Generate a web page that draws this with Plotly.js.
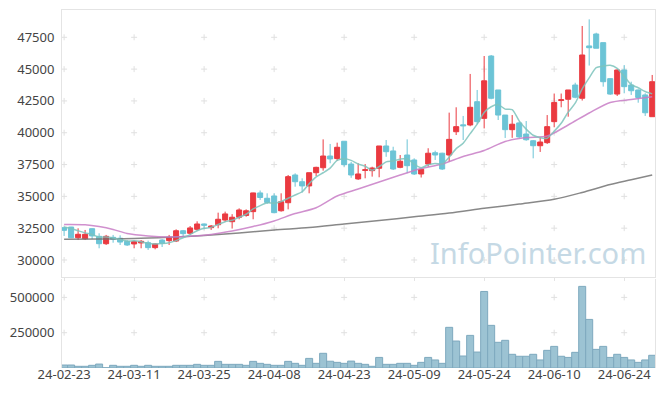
<!DOCTYPE html>
<html><head><meta charset="utf-8">
<script src="https://cdn.plot.ly/plotly-3.0.1.min.js"></script>
<style>html,body{margin:0;padding:0;background:#fff}#chart{width:665px;height:396px}</style>
</head><body><div id="chart"></div>
<script>
const dates = ["24-02-23","24-02-26","24-02-27","24-02-28","24-02-29","24-03-04","24-03-05","24-03-06","24-03-07","24-03-08",
"24-03-11","24-03-12","24-03-13","24-03-14","24-03-15","24-03-18","24-03-19","24-03-20","24-03-21","24-03-22",
"24-03-25","24-03-26","24-03-27","24-03-28","24-03-29","24-04-01","24-04-02","24-04-03","24-04-04","24-04-05",
"24-04-08","24-04-09","24-04-11","24-04-12","24-04-15","24-04-16","24-04-17","24-04-18","24-04-19","24-04-22",
"24-04-23","24-04-24","24-04-25","24-04-26","24-04-29","24-04-30","24-05-02","24-05-03","24-05-07","24-05-08",
"24-05-09","24-05-10","24-05-13","24-05-14","24-05-16","24-05-17","24-05-20","24-05-21","24-05-22","24-05-23",
"24-05-24","24-05-27","24-05-28","24-05-29","24-05-30","24-05-31","24-06-03","24-06-04","24-06-05","24-06-07",
"24-06-10","24-06-11","24-06-12","24-06-13","24-06-14","24-06-17","24-06-18","24-06-19","24-06-20","24-06-21",
"24-06-24","24-06-25","24-06-26","24-06-27","24-06-28"];

const open = [32540,32590,31750,31670,32460,31860,31280,31780,31710,31470,
31260,31340,31360,30970,31570,31520,31490,32300,32100,32410,
32830,32540,32770,33140,33010,33360,33500,33800,35270,34850,
35030,33870,34500,36680,36150,35820,36860,37250,38170,37970,
39330,37540,36370,37040,37020,37210,38960,38570,37280,38250,
37860,36760,37540,38430,38390,38250,40080,40620,40610,42440,
41130,46030,43360,41390,40240,40770,39900,39370,38980,39220,
40870,42530,42630,43750,42710,46820,47760,47080,44250,43040,
44930,43750,43360,42970,41260];

const high = [32620,32600,32490,32360,32490,32100,31970,31970,31940,31570,
31520,31570,31520,31310,31630,31970,32410,32360,32670,33040,
32870,32750,33720,33800,33600,34060,33980,35290,35460,35240,
35240,35240,36680,36810,36420,36860,37330,39480,39120,39220,
39330,37710,37600,37540,37330,38960,39430,38900,38250,39480,
37990,37210,38780,38590,38430,41580,42000,41320,44620,43360,
46030,46110,43360,41390,41390,40870,40920,39430,39640,41390,
43080,43080,43360,43930,48390,48910,47860,47080,44280,44990,
45320,44010,43400,43100,44540];

const low = [31890,31720,31570,31570,31650,30920,31180,31360,31180,31100,
30920,30920,30790,30840,31020,31180,31410,31830,31990,32300,
32410,32360,32490,33010,32470,33200,33400,33200,34720,34400,
33670,33800,33980,35760,35290,35240,36600,37020,37600,37800,
37330,36460,36290,36420,36550,36500,38110,37070,37210,36820,
36680,36480,37330,37860,37070,37720,39820,39430,40510,40680,
40340,42630,41000,39590,39600,39560,39370,37990,38490,39120,
40430,42000,41260,42710,42530,45280,46640,43620,42970,42890,
43100,42970,42360,41320,41260];

const close = [32330,31750,32020,32020,31890,31280,31860,31630,31410,31180,
31440,31470,30970,31260,31310,31780,32300,32070,32520,32830,
32730,32670,33200,33620,33360,33930,33870,35270,34910,34520,
33720,34580,36550,36150,35820,36860,37280,38170,37940,38860,
37490,36680,36760,37090,37230,38960,38510,37150,37760,37410,
36760,37130,38390,38250,37150,39480,40480,40550,42000,40870,
44080,42710,41390,40240,40670,39670,39450,38980,39270,40480,
42380,42590,43360,42790,46110,46680,46640,44010,43040,44930,
43620,43300,42770,41570,44010];

const volume = [21000,21000,12000,12000,19000,28000,2000,19000,12000,12000,
19000,12000,19000,12000,12000,12000,19000,19000,19000,26000,
19000,19000,47000,26000,26000,26000,19000,47000,33000,26000,
19000,19000,47000,33000,19000,68000,33000,104000,48000,40000,
33000,49000,33000,26000,12000,75000,26000,26000,33000,33000,
19000,40000,75000,57000,33000,288000,191000,85000,231000,113000,
542000,302000,182000,196000,97000,83000,83000,97000,57000,125000,
153000,83000,75000,111000,578000,344000,132000,153000,75000,97000,
75000,57000,40000,57000,90000];

// moving-average lines (first MA5 points precede the window)
const ma5Head = [32600,32480,32300,32130];
const ma20Idx = [0,3,5,7,9,12,15,18,21,24,27,30,33,36,39,42,45,48,51,54,57,60,63,66,69,72,75,78,81,84];
const ma20Val = [32790,32770,32630,32400,32080,31890,31810,31860,32010,32280,32630,33070,33650,34110,35030,35580,36130,36680,37190,37540,38130,38600,39310,39620,39740,40610,41550,42380,42610,42830];
const ma60Idx = [0,5,10,15,20,25,30,35,40,45,50,55,60,65,70,74,78,81,84];
const ma60Val = [31630,31650,31680,31780,31920,32120,32360,32550,32830,33100,33400,33690,34060,34400,34770,35310,35930,36300,36680];

const priceTicks = [30000,32500,35000,37500,40000,42500,45000,47500];
const volTicks = [250000,500000];
const xTickIdx = [0,10,20,30,40,50,60,70,80];

const UP = '#ea3a40', DOWN = '#6cc4d6';
const ma5 = close.map((c,i) => i < 4 ? ma5Head[i] :
  Math.round((close[i]+close[i-1]+close[i-2]+close[i-3]+close[i-4]) / 5));

const tickCats = xTickIdx.map(i => dates[i]);

// light "+" marks at tick intersections, drawn beneath the data
const shapes = [];
function plusMarks(xr, yr, ys){
  xTickIdx.forEach(xi => ys.forEach(v => {
    const ln = {color:'#e0e0e0', width:1};
    shapes.push({type:'line', layer:'below', xref:xr, yref:yr, xsizemode:'pixel', xanchor:xi,
      x0:-3, x1:3, y0:v, y1:v, line:ln});
    shapes.push({type:'line', layer:'below', xref:xr, yref:yr, ysizemode:'pixel', yanchor:v,
      y0:-3, y1:3, x0:xi, x1:xi, line:ln});
  }));
}
plusMarks('x','y',priceTicks);
plusMarks('x2','y2',volTicks);

const traces = [
  {type:'candlestick', x:dates, open:open, high:high, low:low, close:close, xaxis:'x', yaxis:'y',
   increasing:{line:{color:UP, width:1}, fillcolor:UP},
   decreasing:{line:{color:DOWN, width:1}, fillcolor:DOWN}, whiskerwidth:0},
  {type:'scatter', mode:'lines', x:ma60Idx.map(i=>dates[i]), y:ma60Val, xaxis:'x', yaxis:'y',
   line:{color:'rgba(115,115,115,0.85)', width:1.5, shape:'spline', smoothing:0.8}},
  {type:'scatter', mode:'lines', x:ma20Idx.map(i=>dates[i]), y:ma20Val, xaxis:'x', yaxis:'y',
   line:{color:'rgba(200,125,198,0.85)', width:1.5, shape:'spline', smoothing:0.8}},
  {type:'scatter', mode:'lines', x:dates, y:ma5, xaxis:'x', yaxis:'y',
   line:{color:'rgba(125,195,188,0.85)', width:1.5, shape:'spline', smoothing:0.7}},
  {type:'bar', x:dates, y:volume, xaxis:'x2', yaxis:'y2',
   marker:{color:'#9cc3d3', line:{color:'#7ea9be', width:1}}}
];

const tf = {family:'Noto Sans, DejaVu Sans, sans-serif', size:13, color:'#444'};
const axBase = {showgrid:false, zeroline:false, showline:true, linecolor:'#e4e4e4', linewidth:1, mirror:true, tickfont:tf};
const layout = {
  width:665, height:396, margin:{l:62, r:10, t:10, b:28},
  paper_bgcolor:'#fff', plot_bgcolor:'#fff', showlegend:false, bargap:0,
  boxgap:0.28, boxgroupgap:0, boxmode:'overlay',
  font:tf, shapes:shapes,
  xaxis: Object.assign({}, axBase, {type:'category', categoryorder:'array', categoryarray:dates,
    range:[-0.3, 84.4], anchor:'y', domain:[0,1], showticklabels:false, tickvals:tickCats,
    ticks:'outside', ticklen:3, tickcolor:'#e4e4e4', rangeslider:{visible:false}}),
  xaxis2: {type:'category', categoryorder:'array', categoryarray:dates,
    range:[-0.3, 84.4], anchor:'free', position:0.009, domain:[0,1], tickvals:tickCats, ticktext:tickCats,
    ticks:'', showline:false, showgrid:false, zeroline:false, tickfont:tf},
  yaxis: Object.assign({}, axBase, {domain:[0.2542,1], range:[28664,49645], tickvals:priceTicks,
    ticktext:priceTicks.map(String), ticks:'', ticklabelstandoff:4}),
  yaxis2: Object.assign({}, axBase, {anchor:'x2', domain:[0,0.25], range:[0,633800], tickvals:volTicks,
    ticktext:volTicks.map(String), ticks:'', ticklabelstandoff:4}),
  annotations:[{text:'InfoPointer.com', xref:'paper', yref:'paper', x:0.988, y:0.322,
    xanchor:'right', yanchor:'middle', showarrow:false,
    font:{family:'Noto Sans, sans-serif', size:29, color:'#c5d9e5'}}]
};
Plotly.newPlot('chart', traces, layout, {displayModeBar:false, staticPlot:true});
</script></body></html>
